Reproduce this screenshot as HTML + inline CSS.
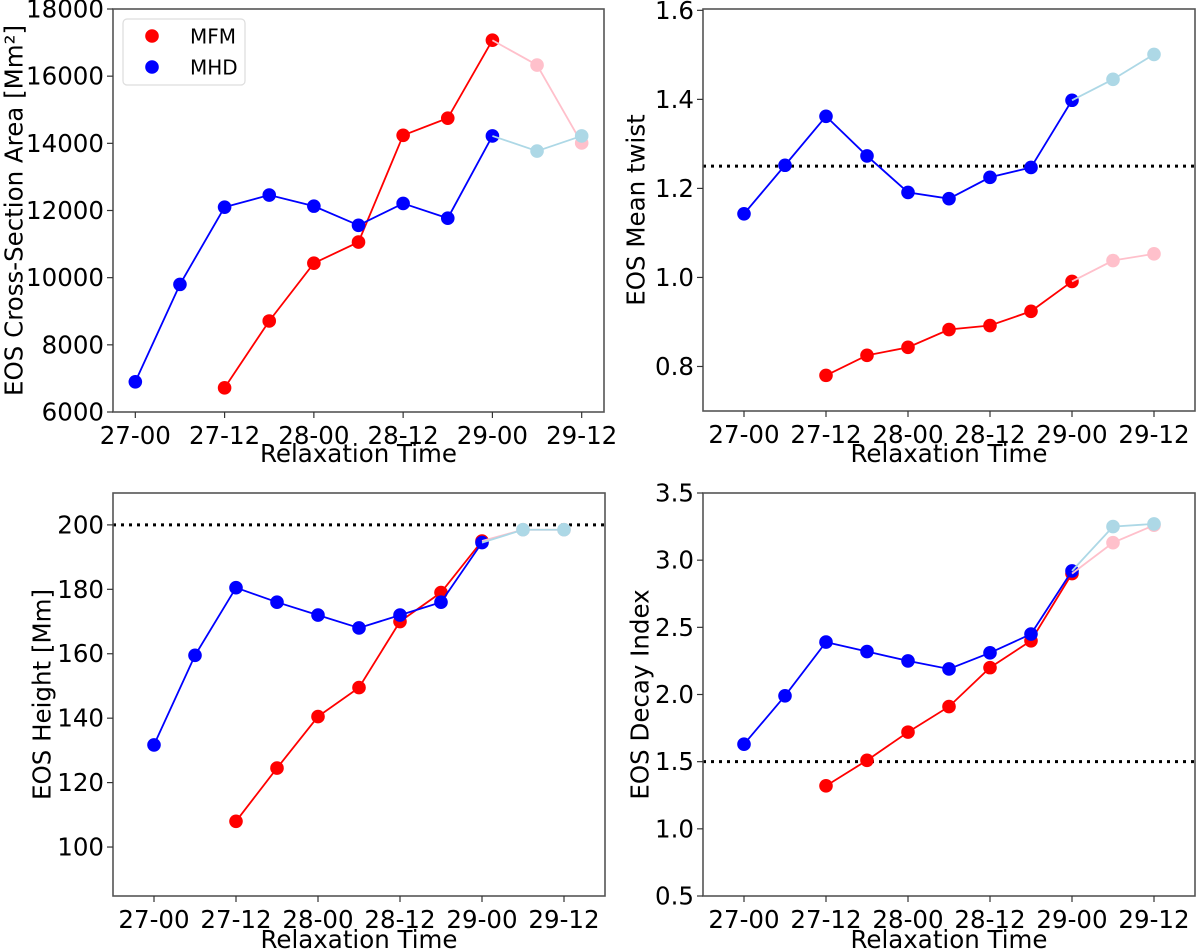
<!DOCTYPE html>
<html><head><meta charset="utf-8"><style>
html,body{margin:0;padding:0;background:#fff;}
svg{display:block;font-family:"DejaVu Sans","Liberation Sans",sans-serif;}
</style></head><body>
<svg id="fig" width="1200" height="950" viewBox="0 0 1200 950" xmlns="http://www.w3.org/2000/svg"></svg>
<script>
const categories = ["27-00","27-06","27-12","27-18","28-00","28-06","28-12","28-18","29-00","29-06","29-12"];
const tickLabels = ["27-00","27-12","28-00","28-12","29-00","29-12"];
// panel 1: cross-section area
const areaMHD = [6900, 9800, 12100, 12460, 12130, 11560, 12210, 11770, 14220, 13770, 14220];
const areaMFM = [null, null, 6720, 8710, 10430, 11060, 14240, 14750, 17070, 16330, 14010];
const areaTicks = [6000, 8000, 10000, 12000, 14000, 16000, 18000];
// panel 2: mean twist
const twistMHD = [1.143, 1.252, 1.362, 1.273, 1.191, 1.177, 1.225, 1.247, 1.398, 1.445, 1.501];
const twistMFM = [null, null, 0.780, 0.825, 0.843, 0.883, 0.892, 0.924, 0.991, 1.038, 1.053];
const twistTicks = [0.8, 1.0, 1.2, 1.4, 1.6];
const twistRef = [1.25];
// panel 3: height
const heightMHD = [131.7, 159.5, 180.5, 176, 172, 168, 172, 176, 194.5, 198.5, 198.5];
const heightMFM = [null, null, 108, 124.5, 140.5, 149.5, 170, 179, 195, 198.5, 198.5];
const heightTicks = [100, 120, 140, 160, 180, 200];
const heightRef = [200];
// panel 4: decay index
const decayMHD = [1.63, 1.99, 2.39, 2.32, 2.25, 2.19, 2.31, 2.45, 2.92, 3.25, 3.27];
const decayMFM = [null, null, 1.32, 1.51, 1.72, 1.91, 2.20, 2.40, 2.90, 3.13, 3.26];
const decayTicks = [0.5, 1.0, 1.5, 2.0, 2.5, 3.0, 3.5];
const decayRef = [1.5];

const NS = "http://www.w3.org/2000/svg";
const fig = document.getElementById('fig');
function mk(tag, attrs, parent) {
  const e = document.createElementNS(NS, tag);
  for (const k in attrs) e.setAttribute(k, attrs[k]);
  (parent || fig).appendChild(e);
  return e;
}

const panels = [
  {name:'area', L:113, R:604, T:9, B:412, xmin:-0.5, xmax:10.5, ymin:6000, ymax:18000, ticks:areaTicks, dec:0,
   mhd:areaMHD, mfm:areaMFM, ref:[], ylabel:'EOS Cross-Section Area [Mm²]', ylx:14, xly:462, legend:true},
  {name:'twist', L:703, R:1195, T:9, B:411, xmin:-1, xmax:11, ymin:0.7, ymax:1.603, ticks:twistTicks, dec:1,
   mhd:twistMHD, mfm:twistMFM, ref:twistRef, ylabel:'EOS Mean twist', ylx:636, xly:462},
  {name:'height', L:113, R:605, T:493, B:896, xmin:-1, xmax:11, ymin:84.8, ymax:209.9, ticks:heightTicks, dec:0,
   mhd:heightMHD, mfm:heightMFM, ref:heightRef, ylabel:'EOS Height [Mm]', ylx:42, xly:948},
  {name:'decay', L:703, R:1195, T:493, B:896, xmin:-1, xmax:11, ymin:0.5, ymax:3.5, ticks:decayTicks, dec:1,
   mhd:decayMHD, mfm:decayMFM, ref:decayRef, ylabel:'EOS Decay Index', ylx:640, xly:948}
];

panels.forEach(p => {
  const g = mk('g', {});
  
  
  const xs = i => p.L + (i - p.xmin) / (p.xmax - p.xmin) * (p.R - p.L);
  const ys = v => p.B - (v - p.ymin) / (p.ymax - p.ymin) * (p.B - p.T);

  p.ref.forEach(r => {
    const l = mk('line', {x1:p.L, x2:p.R, y1:ys(r), y2:ys(r), stroke:'#000', 'stroke-width':3, 'stroke-dasharray':'3,5'}, g);
    
    
  });

  function series(vals, from, to, color, label, markFrom) {
    const pts = [];
    for (let i = from; i <= to; i++) if (vals[i] != null) pts.push([xs(i), ys(vals[i]), i]);
    const pl = mk('polyline', {points: pts.map(q => q[0] + ',' + q[1]).join(' '), fill:'none', stroke:color, 'stroke-width':1.8}, g);
    
    
    pts.forEach(q => {
      if (q[2] < markFrom) return;
      const c = mk('circle', {cx:q[0], cy:q[1], r:6.8, fill:color}, g);
      
      
    });
  }
  series(p.mfm, 0, 8, '#ff0000', 'mfm', 0);
  series(p.mhd, 0, 8, '#0000ff', 'mhd', 0);
  series(p.mfm, 8, 10, '#ffc0cb', 'mfm-extended', 9);
  series(p.mhd, 8, 10, '#add8e6', 'mhd-extended', 9);

  const fr = mk('rect', {x:p.L, y:p.T, width:p.R-p.L, height:p.B-p.T, fill:'none', stroke:'#555', 'stroke-width':1.6}, g);
  
  

  p.ticks.forEach(t => {
    const y = ys(t);
    mk('line', {x1:p.L-6, x2:p.L, y1:y, y2:y, stroke:'#333', 'stroke-width':1.2}, g);
    const tx = mk('text', {x:p.L-9, y:y+8.5, 'text-anchor':'end', 'font-size':24.5, fill:'#000'}, g);
    tx.textContent = t.toFixed(p.dec);
    
    
  });
  tickLabels.forEach(lab => {
    const i = categories.indexOf(lab);
    const x = xs(i);
    mk('line', {x1:x, x2:x, y1:p.B, y2:p.B+6, stroke:'#333', 'stroke-width':1.2}, g);
    const tx = mk('text', {x:x, y:p.B+32, 'text-anchor':'middle', 'font-size':24.5, fill:'#000'}, g);
    tx.textContent = lab;
    
    
  });
  const xl = mk('text', {x:(p.L+p.R)/2, y:p.xly, 'text-anchor':'middle', 'font-size':24.5, fill:'#000'}, g);
  xl.textContent = 'Relaxation Time';
  
  
  const yc = (p.T + p.B) / 2;
  const yl = mk('text', {x:p.ylx, y:yc, 'text-anchor':'middle', 'font-size':24.5, fill:'#000', 'dominant-baseline':'central', transform:'rotate(-90 ' + p.ylx + ' ' + yc + ')'}, g);
  yl.textContent = p.ylabel;
  
  

  if (p.legend) {
    const lg = mk('g', {}, g);
    
    
    mk('rect', {x:123, y:19, width:122, height:66, rx:4, fill:'#fff', stroke:'#ddd', 'stroke-width':1.2}, lg);
    [['MFM','#ff0000',36],['MHD','#0000ff',67]].forEach(e => {
      const en = mk('g', {}, lg);
      
      
      mk('circle', {cx:152, cy:e[2], r:6.8, fill:e[1]}, en);
      const t = mk('text', {x:190, y:e[2]+7.5, 'font-size':20, fill:'#000'}, en);
      t.textContent = e[0];
    });
  }
});
</script>
</body></html>
